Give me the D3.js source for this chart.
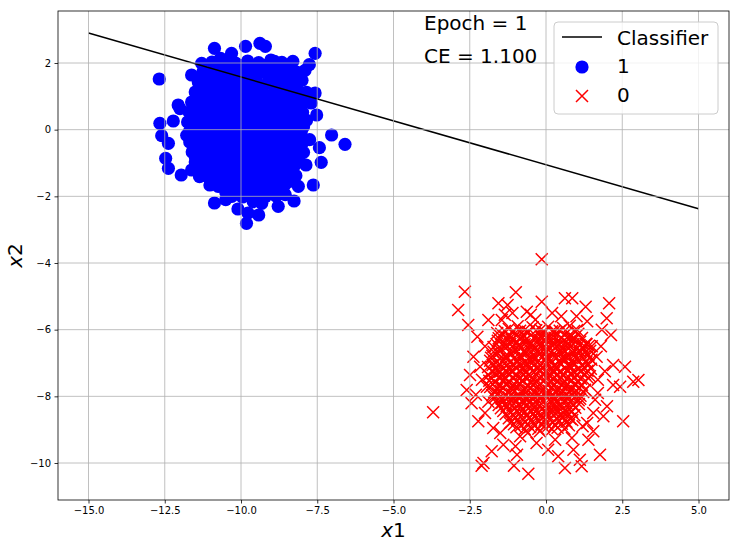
<!DOCTYPE html>
<html><head><meta charset="utf-8">
<script src="https://cdn.jsdelivr.net/npm/d3@7"></script>
<style>body{margin:0;background:#fff}svg{display:block;font-family:"DejaVu Sans",sans-serif}</style>
</head><body><svg id="c" width="738" height="547"></svg>
<script>
// class 1 (blue circles): outer points
const class1Outer = [
[-12.68,1.52],[-10.87,2.44],[-10.31,2.29],[-10.67,2.14],[-11.29,1.99],[-11.62,1.64],[-11.1,1.69],[-11.29,1.29],
[-12.06,0.74],[-12.22,0.26],[-12.66,0.19],[-12.6,-0.18],[-12.38,-0.41],[-11.78,-0.17],[-12.47,-0.86],[-12.38,-1.16],
[-11.96,-1.36],[-11.62,-1.21],[-11.36,-1.41],[-11.02,-1.66],[-10.87,-2.2],[-10.36,-1.96],[-10.1,-2.38],[-9.82,-2.81],
[-9.6,-2.16],[-11.5,-0.81],[-11.56,0.34],[-9.38,2.59],[-9.2,2.5],[-9.85,2.5],[-7.57,2.29],[-7.76,1.95],[-8.39,1.96],
[-8.17,1.6],[-7.57,1.1],[-7.52,0.44],[-7.03,-0.16],[-6.59,-0.44],[-7.43,-0.54],[-7.37,-0.98],[-7.87,-1.06],
[-7.63,-1.66],[-8.12,-1.7],[-8.26,-2.14],[-8.78,-2.3],[-9.32,-2.21],[-9.42,-2.56],[-9.77,-2.5],[-9.05,-1.56],
[-12.0,0.63],[-11.35,0.55],[-8.9,2.05],[-10.5,-2.1],[-8.55,-1.95],[-7.7,0.8],[-7.75,-0.3]
];
// class 1 dense core
const class1Core = [
[-10.95,2.03],[-10.55,2.08],[-10.18,2.0],[-9.78,2.06],[-9.42,2.01],[-9.02,2.09],[-8.66,2.02],[-8.3,2.05],
[-11.25,1.73],[-10.85,1.78],[-10.47,1.71],[-10.08,1.77],[-9.7,1.74],[-9.3,1.79],[-8.93,1.72],[-8.55,1.76],[-8.18,1.73],[-7.9,1.78],
[-11.4,1.43],[-11.0,1.48],[-10.62,1.42],[-10.25,1.47],[-9.88,1.44],[-9.5,1.49],[-9.12,1.41],[-8.75,1.46],[-8.38,1.43],[-8.0,1.48],
[-11.5,1.13],[-11.12,1.17],[-10.75,1.12],[-10.4,1.16],[-10.02,1.14],[-9.65,1.18],[-9.28,1.11],[-8.9,1.15],[-8.52,1.13],[-8.15,1.17],[-7.85,1.12],
[-11.62,0.83],[-11.25,0.87],[-10.88,0.82],[-10.5,0.86],[-10.12,0.84],[-9.75,0.88],[-9.38,0.81],[-9.0,0.85],[-8.63,0.83],[-8.27,0.87],[-7.93,0.82],
[-11.7,0.53],[-11.32,0.57],[-10.95,0.52],[-10.58,0.56],[-10.2,0.54],[-9.83,0.58],[-9.46,0.51],[-9.1,0.55],[-8.72,0.53],[-8.35,0.57],[-7.98,0.52],
[-11.75,0.23],[-11.38,0.27],[-11.02,0.22],[-10.65,0.26],[-10.28,0.24],[-9.9,0.28],[-9.53,0.21],[-9.17,0.25],[-8.8,0.23],[-8.42,0.27],[-8.05,0.22],[-7.85,0.28],
[-11.7,-0.07],[-11.33,-0.03],[-10.96,-0.08],[-10.6,-0.04],[-10.23,-0.06],[-9.86,-0.02],[-9.5,-0.09],[-9.13,-0.05],[-8.76,-0.07],[-8.4,-0.03],[-8.03,-0.08],
[-11.68,-0.37],[-11.3,-0.33],[-10.93,-0.38],[-10.56,-0.34],[-10.18,-0.36],[-9.8,-0.32],[-9.43,-0.39],[-9.07,-0.35],[-8.7,-0.37],[-8.33,-0.33],[-7.97,-0.38],
[-11.6,-0.67],[-11.22,-0.63],[-10.86,-0.68],[-10.48,-0.64],[-10.12,-0.66],[-9.75,-0.62],[-9.38,-0.69],[-9.0,-0.65],[-8.64,-0.67],[-8.28,-0.63],[-7.95,-0.68],
[-11.5,-0.97],[-11.12,-0.93],[-10.75,-0.98],[-10.38,-0.94],[-10.0,-0.96],[-9.64,-0.92],[-9.27,-0.99],[-8.9,-0.95],[-8.53,-0.97],[-8.17,-0.93],
[-11.3,-1.27],[-10.92,-1.23],[-10.55,-1.28],[-10.18,-1.24],[-9.8,-1.26],[-9.44,-1.22],[-9.07,-1.29],[-8.7,-1.25],[-8.33,-1.27],
[-10.95,-1.57],[-10.6,-1.53],[-10.22,-1.58],[-9.85,-1.54],[-9.48,-1.56],[-9.12,-1.52],[-8.75,-1.59],[-8.4,-1.55],
[-10.5,-1.87],[-10.12,-1.83],[-9.76,-1.88],[-9.4,-1.84],[-9.02,-1.86],[-8.66,-1.82]
];
// class 1 points between the core rows
const class1Fill = [
[-10.75,1.91],[-10.37,1.88],[-9.98,1.92],[-9.6,1.89],[-9.22,1.93],[-8.84,1.87],[-8.48,1.91],
[-11.05,1.6],[-10.66,1.62],[-10.27,1.58],[-9.89,1.61],[-9.5,1.59],[-9.11,1.63],[-8.74,1.58],[-8.36,1.61],[-8.05,1.6],
[-11.2,1.31],[-10.81,1.28],[-10.43,1.32],[-10.06,1.29],[-9.69,1.31],[-9.31,1.27],[-8.93,1.32],[-8.56,1.3],[-8.19,1.28],
[-11.31,1.0],[-10.93,1.02],[-10.57,0.98],[-10.2,1.01],[-9.83,0.99],[-9.46,1.03],[-9.09,0.98],[-8.71,1.01],[-8.34,0.99],[-8.0,1.02],
[-11.43,0.7],[-11.06,0.68],[-10.69,0.72],[-10.31,0.69],[-9.94,0.71],[-9.57,0.67],[-9.19,0.72],[-8.82,0.7],[-8.45,0.68],[-8.1,0.71],
[-11.5,0.4],[-11.13,0.42],[-10.77,0.38],[-10.39,0.41],[-10.02,0.39],[-9.65,0.43],[-9.28,0.38],[-8.91,0.41],[-8.54,0.39],[-8.18,0.42],
[-11.55,0.1],[-11.2,0.08],[-10.83,0.12],[-10.46,0.09],[-10.09,0.11],[-9.72,0.07],[-9.35,0.12],[-8.97,0.1],[-8.6,0.08],[-8.23,0.11],[-7.95,0.09],
[-11.5,-0.2],[-11.15,-0.18],[-10.78,-0.22],[-10.41,-0.19],[-10.04,-0.21],[-9.67,-0.17],[-9.3,-0.22],[-8.93,-0.2],[-8.56,-0.18],[-8.2,-0.21],
[-11.45,-0.5],[-11.1,-0.52],[-10.72,-0.48],[-10.35,-0.51],[-9.98,-0.49],[-9.61,-0.53],[-9.24,-0.48],[-8.87,-0.51],[-8.5,-0.49],[-8.14,-0.52],
[-11.4,-0.8],[-11.03,-0.78],[-10.66,-0.82],[-10.3,-0.79],[-9.92,-0.81],[-9.55,-0.77],[-9.18,-0.82],[-8.82,-0.8],[-8.45,-0.78],[-8.1,-0.81],
[-11.2,-1.1],[-10.83,-1.12],[-10.46,-1.08],[-10.1,-1.11],[-9.72,-1.09],[-9.36,-1.13],[-8.98,-1.08],[-8.62,-1.11],[-8.26,-1.09],
[-11.1,-1.4],[-10.75,-1.38],[-10.38,-1.42],[-10.0,-1.39],[-9.63,-1.41],[-9.26,-1.37],[-8.9,-1.42],[-8.55,-1.4],[-8.2,-1.38],
[-10.75,-1.7],[-10.4,-1.72],[-10.03,-1.68],[-9.66,-1.71],[-9.3,-1.69],[-8.93,-1.73],[-8.58,-1.68],
[-10.3,-2.0],[-9.95,-2.02],[-9.58,-1.98],[-9.2,-2.01],[-8.85,-1.99]
];
// class 0 (red crosses): outer points
const class0Outer = [
[-0.14,-3.89],[-2.66,-4.86],[-0.99,-4.88],[-2.88,-5.41],[-1.56,-5.21],[-1.26,-5.26],[-2.55,-5.86],[-1.89,-5.71],
[-2.25,-6.21],[-0.63,-5.46],[-1.45,-5.71],[-2.38,-6.81],[-2.16,-7.11],[-2.49,-7.36],[-2.6,-7.81],[-1.94,-7.71],
[-2.44,-8.21],[-1.89,-8.16],[-3.7,-8.48],[-2.22,-8.75],[-1.73,-8.95],[-1.78,-9.65],[-2.11,-10.08],[-2.05,-10.0],
[-1.05,-10.08],[-0.58,-10.32],[-0.85,-9.2],[-1.18,-8.8],[-0.31,-9.4],[0.62,-5.06],[0.86,-5.06],[1.3,-5.31],
[2.07,-5.21],[1.99,-5.66],[2.13,-6.16],[1.83,-6.0],[-0.14,-5.16],[2.59,-7.11],[3.03,-7.51],[2.86,-7.56],[2.2,-7.06],
[2.2,-7.66],[2.43,-7.71],[1.93,-7.25],[2.53,-8.75],[1.88,-8.6],[1.55,-8.5],[1.55,-9.05],[1.77,-9.75],[1.11,-9.9],
[1.17,-10.1],[0.62,-10.15],[0.4,-9.8],[0.07,-9.6],[0.9,-9.6],[1.39,-9.3],[1.61,-8.1],[1.66,-6.81],[1.5,-6.5],
[-0.5,-5.55],[0.2,-5.5],[-2.0,-6.5],[-2.1,-7.5],[-2.0,-8.5],[1.7,-7.9],[1.8,-6.5],[-1.0,-9.5],[0.3,-9.3],[-0.6,-9.1],
[1.2,-8.9],[-1.5,-9.1],[1.0,-5.6],[-1.1,-5.5],[-2.3,-7.95],[1.7,-7.5],[2.0,-8.3],[0.85,-9.25],[-0.2,-9.05],
[-1.6,-6.1],[-1.35,-5.55],[1.35,-5.75],[0.5,-5.6],[-0.35,-5.7],[1.35,-8.8],[-1.4,-9.45],[-0.95,-9.75]
];
// class 0 dense core
const class0Core = [
[-1.22,-5.98],[-0.93,-5.9],[-0.71,-6.02],[-0.44,-5.93],[-0.18,-6.0],[0.07,-5.91],[0.29,-6.04],[0.56,-5.95],[0.78,-5.88],[1.02,-6.01],
[-1.47,-6.12],[-1.2,-6.2],[-1.01,-6.1],[-0.75,-6.17],[-0.57,-6.08],[-0.3,-6.22],[-0.11,-6.13],[0.14,-6.19],[0.33,-6.1],[0.6,-6.16],[0.79,-6.23],[1.06,-6.12],
[-1.58,-6.33],[-1.39,-6.4],[-1.13,-6.3],[-0.94,-6.38],[-0.68,-6.31],[-0.49,-6.41],[-0.23,-6.34],[-0.04,-6.29],[0.22,-6.39],[0.41,-6.32],[0.67,-6.37],[0.86,-6.28],[1.12,-6.36],[1.31,-6.42],
[-1.72,-6.52],[-1.46,-6.58],[-1.27,-6.5],[-1.01,-6.6],[-0.82,-6.53],[-0.56,-6.49],[-0.37,-6.59],[-0.11,-6.54],[0.08,-6.61],[0.34,-6.5],[0.53,-6.57],[0.79,-6.52],[0.98,-6.6],[1.24,-6.55],[1.41,-6.48],
[-1.76,-6.78],[-1.57,-6.71],[-1.31,-6.8],[-1.12,-6.73],[-0.86,-6.77],[-0.67,-6.69],[-0.41,-6.79],[-0.22,-6.72],[0.04,-6.8],[0.23,-6.74],[0.49,-6.7],[0.68,-6.81],[0.94,-6.75],[1.13,-6.68],[1.39,-6.77],
[-1.83,-6.93],[-1.64,-7.0],[-1.38,-6.91],[-1.19,-6.98],[-0.93,-6.94],[-0.74,-7.01],[-0.48,-6.9],[-0.29,-6.97],[-0.03,-6.92],[0.16,-7.0],[0.42,-6.95],[0.61,-6.89],[0.87,-6.99],[1.06,-6.93],[1.32,-6.97],[1.49,-6.9],
[-1.9,-7.12],[-1.63,-7.18],[-1.45,-7.1],[-1.18,-7.2],[-1.0,-7.13],[-0.73,-7.17],[-0.55,-7.09],[-0.28,-7.19],[-0.1,-7.14],[0.17,-7.21],[0.35,-7.11],[0.62,-7.16],[0.8,-7.1],[1.07,-7.19],[1.25,-7.13],[1.47,-7.17],
[-1.88,-7.37],[-1.69,-7.31],[-1.43,-7.39],[-1.24,-7.33],[-0.98,-7.38],[-0.79,-7.3],[-0.53,-7.4],[-0.34,-7.34],[-0.08,-7.31],[0.11,-7.39],[0.37,-7.33],[0.56,-7.38],[0.82,-7.3],[1.01,-7.37],[1.27,-7.34],[1.44,-7.4],
[-1.86,-7.53],[-1.67,-7.58],[-1.4,-7.5],[-1.22,-7.59],[-0.95,-7.54],[-0.77,-7.51],[-0.5,-7.6],[-0.32,-7.55],[-0.05,-7.5],[0.13,-7.58],[0.4,-7.53],[0.58,-7.6],[0.85,-7.52],[1.03,-7.57],[1.3,-7.54],
[-1.83,-7.72],[-1.6,-7.79],[-1.42,-7.73],[-1.15,-7.77],[-0.97,-7.7],[-0.7,-7.8],[-0.52,-7.74],[-0.25,-7.71],[-0.07,-7.79],[0.2,-7.73],[0.38,-7.78],[0.65,-7.7],[0.83,-7.77],[1.1,-7.74],[1.28,-7.8],
[-1.76,-7.97],[-1.57,-7.91],[-1.31,-7.99],[-1.12,-7.93],[-0.86,-7.98],[-0.67,-7.9],[-0.41,-8.0],[-0.22,-7.94],[0.04,-7.92],[0.23,-7.99],[0.49,-7.93],[0.68,-7.97],[0.94,-7.91],[1.13,-7.98],
[-1.63,-8.13],[-1.44,-8.19],[-1.18,-8.11],[-0.99,-8.18],[-0.73,-8.14],[-0.54,-8.2],[-0.28,-8.12],[-0.09,-8.17],[0.17,-8.13],[0.36,-8.2],[0.62,-8.11],[0.81,-8.16],[1.07,-8.12],
[-1.48,-8.36],[-1.29,-8.3],[-1.03,-8.38],[-0.84,-8.32],[-0.58,-8.37],[-0.39,-8.31],[-0.13,-8.39],[0.06,-8.33],[0.32,-8.36],[0.51,-8.3],[0.77,-8.38],[0.96,-8.34],
[-1.32,-8.53],[-1.05,-8.58],[-0.87,-8.51],[-0.6,-8.57],[-0.42,-8.52],[-0.15,-8.59],[0.03,-8.54],[0.3,-8.5],[0.48,-8.58],[0.75,-8.53],[0.93,-8.57],
[-1.13,-8.77],[-0.94,-8.71],[-0.68,-8.78],[-0.49,-8.72],[-0.23,-8.76],[-0.04,-8.7],[0.22,-8.79],[0.41,-8.73],[0.67,-8.76],[0.86,-8.71],
[-0.97,-8.93],[-0.7,-8.98],[-0.52,-8.92],[-0.25,-8.97],[-0.07,-8.91],[0.2,-8.99],[0.38,-8.94],[0.6,-8.97],
[-1.05,-6.45],[-0.6,-6.44],[-0.15,-6.47],[0.3,-6.42],[0.75,-6.46],
[-1.3,-6.86],[-0.85,-6.84],[-0.4,-6.88],[0.05,-6.85],[0.5,-6.87],[0.95,-6.83],
[-1.5,-7.26],[-1.08,-7.24],[-0.63,-7.27],[-0.18,-7.23],[0.27,-7.28],[0.72,-7.25],[1.15,-7.26],
[-1.3,-7.66],[-0.85,-7.63],[-0.4,-7.67],[0.05,-7.64],[0.5,-7.66],[0.95,-7.62],
[-1.05,-8.05],[-0.6,-8.07],[-0.15,-8.04],[0.3,-8.06],[0.75,-8.03],
[-0.8,-8.45],[-0.35,-8.46],[0.1,-8.44],[0.55,-8.47]
];
// class 0 points between the core rows
const class0Fill = [
[-1.35,-6.04],[-1.1,-6.07],[-0.85,-6.03],[-0.6,-6.06],[-0.32,-6.02],[-0.05,-6.07],[0.2,-6.05],[0.45,-6.03],[0.7,-6.08],[0.92,-6.04],
[-1.55,-6.26],[-1.3,-6.23],[-1.07,-6.27],[-0.85,-6.24],[-0.62,-6.28],[-0.4,-6.25],[-0.17,-6.22],[0.05,-6.27],[0.28,-6.24],[0.5,-6.26],[0.72,-6.22],[0.95,-6.27],[1.18,-6.25],
[-1.62,-6.44],[-1.4,-6.47],[-1.17,-6.43],[-0.9,-6.46],[-0.7,-6.44],[-0.45,-6.48],[-0.25,-6.45],[0.02,-6.43],[0.2,-6.47],[0.45,-6.44],[0.66,-6.48],[0.9,-6.43],[1.1,-6.46],[1.33,-6.44],
[-1.72,-6.66],[-1.5,-6.63],[-1.2,-6.67],[-0.95,-6.64],[-0.72,-6.68],[-0.5,-6.65],[-0.27,-6.62],[-0.02,-6.67],[0.2,-6.64],[0.42,-6.66],[0.62,-6.63],[0.87,-6.67],[1.1,-6.64],[1.3,-6.66],[1.45,-6.63],
[-1.8,-6.84],[-1.52,-6.87],[-1.27,-6.83],[-1.05,-6.86],[-0.78,-6.84],[-0.58,-6.88],[-0.32,-6.85],[-0.12,-6.83],[0.12,-6.87],[0.35,-6.84],[0.57,-6.86],[0.78,-6.83],[1.02,-6.87],[1.22,-6.85],[1.42,-6.84],
[-1.75,-7.06],[-1.52,-7.03],[-1.28,-7.07],[-1.08,-7.04],[-0.85,-7.06],[-0.62,-7.02],[-0.4,-7.07],[-0.18,-7.05],[0.05,-7.03],[0.27,-7.07],[0.5,-7.04],[0.73,-7.06],[0.95,-7.03],[1.17,-7.07],[1.4,-7.05],
[-1.78,-7.24],[-1.56,-7.27],[-1.32,-7.23],[-1.12,-7.26],[-0.88,-7.24],[-0.68,-7.28],[-0.44,-7.25],[-0.22,-7.22],[0.02,-7.27],[0.22,-7.24],[0.46,-7.26],[0.68,-7.22],[0.92,-7.27],[1.12,-7.25],[1.36,-7.23],
[-1.78,-7.46],[-1.55,-7.43],[-1.32,-7.47],[-1.1,-7.44],[-0.88,-7.46],[-0.65,-7.42],[-0.42,-7.47],[-0.2,-7.45],[0.03,-7.43],[0.25,-7.47],[0.48,-7.44],[0.7,-7.46],[0.93,-7.43],[1.15,-7.47],[1.38,-7.45],
[-1.75,-7.64],[-1.52,-7.67],[-1.3,-7.63],[-1.08,-7.66],[-0.85,-7.64],[-0.62,-7.68],[-0.4,-7.65],[-0.17,-7.62],[0.05,-7.67],[0.28,-7.64],[0.5,-7.66],[0.72,-7.63],[0.95,-7.67],[1.18,-7.65],
[-1.7,-7.86],[-1.48,-7.83],[-1.25,-7.87],[-1.03,-7.84],[-0.8,-7.86],[-0.58,-7.82],[-0.35,-7.87],[-0.13,-7.85],[0.1,-7.83],[0.32,-7.87],[0.55,-7.84],[0.77,-7.86],[1.0,-7.83],[1.22,-7.87],
[-1.68,-8.04],[-1.45,-8.07],[-1.22,-8.03],[-0.9,-8.06],[-0.68,-8.04],[-0.45,-8.08],[-0.22,-8.05],[0.0,-8.02],[0.25,-8.07],[0.47,-8.04],[0.7,-8.06],[0.92,-8.03],[1.12,-8.07],
[-1.55,-8.26],[-1.32,-8.23],[-1.1,-8.27],[-0.88,-8.24],[-0.65,-8.26],[-0.42,-8.22],[-0.2,-8.27],[0.03,-8.25],[0.25,-8.23],[0.47,-8.27],[0.7,-8.24],[0.9,-8.26],[1.08,-8.23],
[-1.4,-8.44],[-1.18,-8.47],[-0.95,-8.43],[-0.7,-8.46],[-0.48,-8.44],[-0.25,-8.48],[-0.02,-8.45],[0.2,-8.42],[0.4,-8.47],[0.63,-8.44],[0.85,-8.46],
[-1.22,-8.66],[-1.0,-8.63],[-0.78,-8.67],[-0.55,-8.64],[-0.32,-8.66],[-0.1,-8.62],[0.12,-8.67],[0.35,-8.65],[0.57,-8.63],[0.8,-8.67],
[-1.05,-8.84],[-0.82,-8.87],[-0.6,-8.83],[-0.38,-8.86],[-0.15,-8.84],[0.08,-8.88],[0.3,-8.85],[0.52,-8.82],[0.75,-8.87]
];
const classifierX = [-15, 5];
const classifierY = [2.9, -2.37];
const xTicks = [-15, -12.5, -10, -7.5, -5, -2.5, 0, 2.5, 5];
const yTicks = [-10, -8, -6, -4, -2, 0, 2];
const legendLabels = ["Classifier", "1", "0"];
const annotations = ["Epoch = 1", "CE = 1.100"];
const annotationX = -4;
const annotationY = [3, 2];

const svg = d3.select('#c');
const L = 58, R = 729, T = 11, B = 500;
const x = d3.scaleLinear().domain([-16, 6]).range([L, R]);
const y = d3.scaleLinear().domain([-11.11, 3.56]).range([B, T]);
const minus = s => s.replace('-', '\u2212');

svg.append('defs').append('clipPath').attr('id', 'clip')
  .append('rect').attr('x', L).attr('y', T).attr('width', R - L).attr('height', B - T);

const plot = svg.append('g').attr('clip-path', 'url(#clip)');
const blue = class1Outer.concat(class1Core, class1Fill);
const red = class0Outer.concat(class0Core, class0Fill);
const ms = 6;
const crossPath = (cx, cy) => `M${cx-ms},${cy-ms}L${cx+ms},${cy+ms}M${cx-ms},${cy+ms}L${cx+ms},${cy-ms}`;

plot.append('g').selectAll('circle').data(blue).join('circle')
  .attr('cx', d => x(d[0])).attr('cy', d => y(d[1])).attr('r', 6.6).attr('fill', '#0000ff');
plot.append('g').selectAll('path').data(red).join('path')
  .attr('d', d => crossPath(x(d[0]), y(d[1])))
  .attr('stroke', '#ff0000').attr('stroke-width', 1.5).attr('fill', 'none');

// grid (on top of scatter, like matplotlib)
const grid = svg.append('g').attr('stroke', '#b0b0b0').attr('stroke-width', 0.8);
grid.selectAll('.gx').data(xTicks).join('line').attr('class', 'gx')
  .attr('x1', d => x(d)).attr('x2', d => x(d)).attr('y1', T).attr('y2', B);
grid.selectAll('.gy').data(yTicks).join('line').attr('class', 'gy')
  .attr('y1', d => y(d)).attr('y2', d => y(d)).attr('x1', L).attr('x2', R);

plot.append('path').datum(d3.zip(classifierX, classifierY))
  .attr('d', d3.line().x(d => x(d[0])).y(d => y(d[1])))
  .attr('stroke', '#000').attr('stroke-width', 1.5).attr('fill', 'none');

// axes
const xAxis = d3.axisBottom(x).tickValues(xTicks).tickSize(3.5).tickPadding(3.5)
  .tickFormat(d => minus(d3.format('.1f')(d)));
const yAxis = d3.axisLeft(y).tickValues(yTicks).tickSize(3.5).tickPadding(3.5)
  .tickFormat(d => minus(String(d)));
const gx = svg.append('g').attr('transform', `translate(0,${B})`).call(xAxis);
const gy = svg.append('g').attr('transform', `translate(${L},0)`).call(yAxis);
[gx, gy].forEach(g => {
  g.select('.domain').remove();
  g.selectAll('line').attr('stroke', '#000').attr('stroke-width', 0.8);
  g.selectAll('text').attr('fill', '#000').style('font-size', '10px').style('font-family', '"DejaVu Sans"');
});
svg.append('rect').attr('x', L).attr('y', T).attr('width', R - L).attr('height', B - T)
  .attr('fill', 'none').attr('stroke', '#000').attr('stroke-width', 0.8);

// axis labels
const xl = svg.append('text').attr('x', (L + R) / 2).attr('y', 537).attr('text-anchor', 'middle')
  .style('font-size', '20px');
xl.append('tspan').style('font-style', 'italic').text('x');
xl.append('tspan').text('1');
const yl = svg.append('text').attr('transform', `translate(22,${(T + B) / 2}) rotate(-90)`)
  .attr('text-anchor', 'middle').style('font-size', '20px');
yl.append('tspan').style('font-style', 'italic').text('x');
yl.append('tspan').text('2');

// annotations
annotations.forEach((t, i) => {
  svg.append('text').attr('x', x(annotationX)).attr('y', y(annotationY[i]))
    .style('font-size', '20px').attr('fill', '#000').text(t);
});

// legend
const lg = svg.append('g');
lg.append('rect').attr('x', 554).attr('y', 22).attr('width', 164).attr('height', 92).attr('rx', 4)
  .attr('fill', '#fff').attr('fill-opacity', 0.8).attr('stroke', '#cccccc').attr('stroke-width', 1);
const rows = [44.5, 73.3, 102];
lg.append('line').attr('x1', 562).attr('x2', 602).attr('y1', 37).attr('y2', 37)
  .attr('stroke', '#000').attr('stroke-width', 1.5);
lg.append('circle').attr('cx', 582).attr('cy', 67).attr('r', 6.6).attr('fill', '#0000ff');
lg.append('path').attr('d', crossPath(582, 96)).attr('stroke', '#ff0000').attr('stroke-width', 1.5);
legendLabels.forEach((t, i) => {
  lg.append('text').attr('x', 617).attr('y', rows[i]).style('font-size', '20px').attr('fill', '#000').text(t);
});
</script></body></html>
